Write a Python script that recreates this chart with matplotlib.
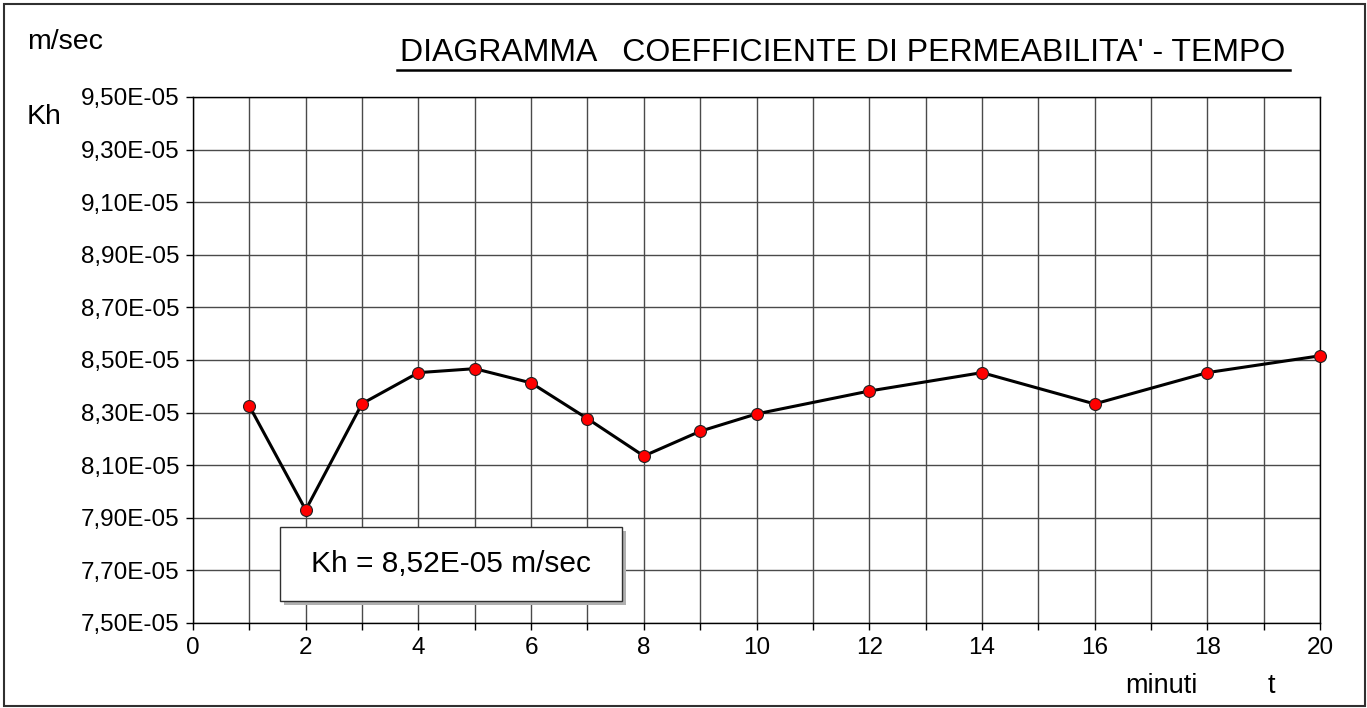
import matplotlib

matplotlib.use("Agg")
import matplotlib.pyplot as plt
from matplotlib.lines import Line2D
from matplotlib.patches import Rectangle
from matplotlib.ticker import FixedLocator, FuncFormatter, MultipleLocator

plt.rcParams["font.family"] = ["Liberation Sans", "DejaVu Sans"]

# minutes and measured permeability (m/sec)
minutes = [1, 2, 3, 4, 5, 6, 7, 8, 9, 10, 12, 14, 16, 18, 20]
kh_values = [8.325e-05, 7.930e-05, 8.334e-05, 8.452e-05, 8.467e-05, 8.413e-05, 8.277e-05, 8.135e-05,
             8.229e-05, 8.295e-05, 8.382e-05, 8.452e-05, 8.333e-05, 8.452e-05, 8.516e-05]
kh_final = 8.52e-05
y_ticks = [7.5e-05, 7.7e-05, 7.9e-05, 8.1e-05, 8.3e-05, 8.5e-05, 8.7e-05, 8.9e-05, 9.1e-05, 9.3e-05, 9.5e-05]
title = "DIAGRAMMA   COEFFICIENTE DI PERMEABILITA' - TEMPO"


def sci_comma(value, _pos=None):
    return f"{value:.2E}".replace(".", ",")


W, H = 1367, 708
fig = plt.figure(figsize=(W / 100, H / 100), dpi=100)
ax = fig.add_axes([193 / W, 1 - 623 / H, 1127 / W, 526 / H])

ax.plot(minutes, kh_values, color="black", lw=2.2, marker="o", ms=8.6,
        mfc="#ff0000", mec="#202020", mew=0.8, zorder=4, clip_on=False)

ax.set_xlim(0, 20)
ax.set_ylim(y_ticks[0], y_ticks[-1])
ax.xaxis.set_major_locator(MultipleLocator(1))
ax.xaxis.set_major_formatter(FuncFormatter(lambda v, p: f"{int(round(v))}" if int(round(v)) % 2 == 0 else ""))
ax.yaxis.set_major_locator(FixedLocator(y_ticks))
ax.yaxis.set_major_formatter(FuncFormatter(sci_comma))
ax.tick_params(axis="both", direction="out", length=5, width=1, labelsize=17.5, colors="black")
ax.tick_params(axis="y", pad=5)
ax.tick_params(axis="x", pad=5)
ax.grid(True, color="#4a4a4a", lw=1.0)
ax.set_axisbelow(True)
for spine in ax.spines.values():
    spine.set_color("black")
    spine.set_linewidth(1.0)

# value box with shadow
box_x, box_y, box_w, box_h = 0.0772, 0.0418, 0.3035, 0.1407
ax.add_patch(Rectangle((box_x + 0.0035, box_y - 0.0076), box_w, box_h, transform=ax.transAxes,
                       facecolor="#b0b0b0", edgecolor="none", zorder=5))
ax.add_patch(Rectangle((box_x, box_y), box_w, box_h, transform=ax.transAxes,
                       facecolor="white", edgecolor="#303030", lw=1.0, zorder=6))
ax.text(box_x + box_w / 2, box_y + box_h / 2, f"Kh = {sci_comma(kh_final)} m/sec", transform=ax.transAxes,
        ha="center", va="center", fontsize=21.5, zorder=7)

# labels around the plot
fig.text(27 / W, 1 - 42 / H, "m/sec", fontsize=20.5, ha="left", va="center")
fig.text(27 / W, 1 - 117 / H, "Kh", fontsize=20.5, ha="left", va="center")
fig.text(1161 / W, 1 - 686 / H, "minuti", fontsize=19.5, ha="center", va="center")
fig.text(1271 / W, 1 - 686 / H, "t", fontsize=19.5, ha="center", va="center")
fig.text(843 / W, 1 - 53 / H, title, fontsize=23, ha="center", va="center")
fig.add_artist(Line2D([397 / W, 1290 / W], [1 - 70 / H, 1 - 70 / H], color="black", lw=1.8,
                      transform=fig.transFigure))

# outer frame
fig.add_artist(Rectangle((4 / W, 2 / H), 1361 / W, 702 / H, transform=fig.transFigure,
                         facecolor="none", edgecolor="#303030", lw=1.5))

fig.savefig("out.png", dpi=100)
